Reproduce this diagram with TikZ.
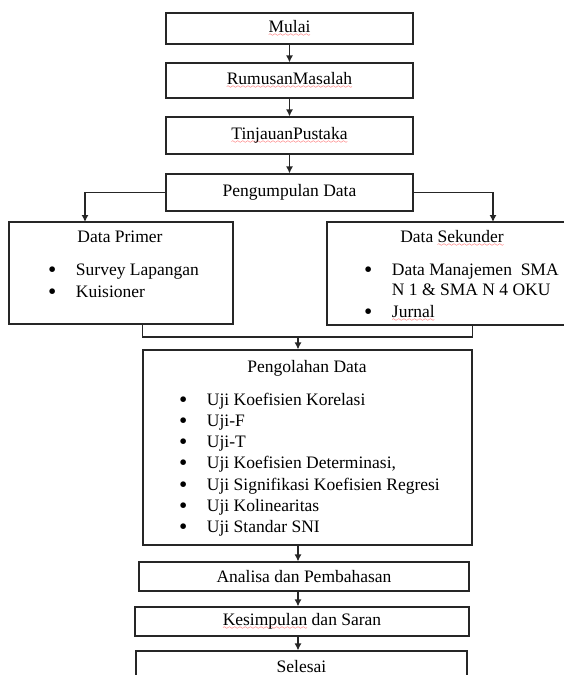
\documentclass[tikz,border=0pt]{standalone}
\usepackage{fontspec}
\setmainfont{Liberation Serif}
\usepackage{tikz}
\usetikzlibrary{positioning, arrows, arrows.meta}

% red wavy underline of the spell checker
\font\squigfont=lasy6
\newcommand\squig[1]{\setbox0\hbox{#1}\rlap{\color{red}\lower4pt\hbox to\wd0{\xleaders\hbox{\squigfont\char58}\hfil}}\box0\relax}
% list bullet
\newcommand\itemdot{\raisebox{-2pt}{\scalebox{1.35}{\textbullet}}}

\begin{document}
\begin{tikzpicture}[x=1pt, y=-1pt, font=\fontsize{17.5}{21.3}\selectfont,
	block/.style={rectangle, draw=black!85, line width=1.2pt, inner sep=0pt, text centered},
	flow/.style={draw=black!85, line width=1.2pt},
	link/.style={flow, -{Latex[length=7pt, width=7pt]}}]
			
			\useasboundingbox (0,0) rectangle (564,675);
			\clip (0,0) rectangle (564,675);
			
			%Nodes
			\node (mulai) at (289.5, 28.5) [block, minimum width=247pt, minimum height=31pt] {\squig{Mulai}};
			
			\node (rumusan) at (289.5, 80.5) [block, minimum width=247pt, minimum height=35pt] {\squig{RumusanMasalah}};
			
			\node (tinjauan) at (289.5, 135.5) [block, minimum width=247pt, minimum height=37pt] {\squig{TinjauanPustaka}};
			
			\node (pengumpulan) at (289.5, 192.5) [block, minimum width=247pt, minimum height=37pt] {Pengumpulan Data};
			
			\node (dataPrimer) at (121, 273) [block, minimum width=224pt, minimum height=102pt] {};
			\node (primerTitle) at (120, 242) [anchor=base] {Data Primer};
			\node (primerList) at (48, 275) [anchor=base west, inner sep=0pt] {%
				\begin{tabular}[t]{@{}l@{\hspace{19.5pt}}l@{}}
					\itemdot & Survey Lapangan\\[0.7pt]
					\itemdot & Kuisioner
				\end{tabular}};
			
			\node (dataSekunder) at (449.5, 273.5) [block, minimum width=245pt, minimum height=103pt] {};
			\node (sekunderTitle) at (452, 242) [anchor=base] {Data \squig{Sekunder}};
			\node (sekunderList) at (364, 275) [anchor=base west, inner sep=0pt] {%
				\begin{tabular}[t]{@{}l@{\hspace{19.5pt}}l@{}}
					\itemdot & Data Manajemen\ \ SMA\\[-1.3pt]
					& N 1 \& SMA N 4 OKU\\[0.7pt]
					\itemdot & \squig{Jurnal}
				\end{tabular}};
			
			\node (pengolahan) at (307.5, 447.5) [block, minimum width=329pt, minimum height=195pt] {};
			\node (pengolahanTitle) at (307, 372) [anchor=base] {Pengolahan Data};
			\node (pengolahanList) at (179, 405) [anchor=base west, inner sep=0pt] {%
				\begin{tabular}[t]{@{}l@{\hspace{19.5pt}}l@{}}
					\itemdot & Uji Koefisien Korelasi\\
					\itemdot & Uji-F\\
					\itemdot & Uji-T\\
					\itemdot & Uji Koefisien Determinasi,\\
					\itemdot & Uji Signifikasi Koefisien Regresi\\
					\itemdot & Uji Kolinearitas\\
					\itemdot & Uji Standar SNI
				\end{tabular}};
			
			\node (analisa) at (304, 576.5) [block, minimum width=330pt, minimum height=29pt] {Analisa dan Pembahasan};
			
			\node (kesimpulan) at (302, 621.5) [block, minimum width=334pt, minimum height=29pt] {\squig{Kesimpulan} dan Saran};
			
			\node (selesai) at (301.5, 666.5) [block, minimum width=331pt, minimum height=31pt] {Selesai};
			
			%Links
			\coordinate (primerIn) at (85, 222);
			\coordinate (sekunderIn) at (493, 222);
			\coordinate (merge) at (298, 337);
			\coordinate (lowAxis) at (298, 0);
			
			\draw [link] (mulai) -- (rumusan);
			\draw [link] (rumusan) -- (tinjauan);
			\draw [link] (tinjauan) -- (pengumpulan);
			\draw [link] (pengumpulan.west) -| (primerIn);
			\draw [link] (pengumpulan.east) -| (sekunderIn);
			\draw [flow] (dataPrimer.south -| pengolahan.west) |- (merge) -| (dataSekunder.south -| pengolahan.east);
			\draw [link] (merge) -- (pengolahan.north -| merge);
			\draw [link] (pengolahan.south -| lowAxis) -- (analisa.north -| lowAxis);
			\draw [link] (analisa.south -| lowAxis) -- (kesimpulan.north -| lowAxis);
			\draw [link] (kesimpulan.south -| lowAxis) -- (selesai.north -| lowAxis);
			
\end{tikzpicture}
\end{document}
